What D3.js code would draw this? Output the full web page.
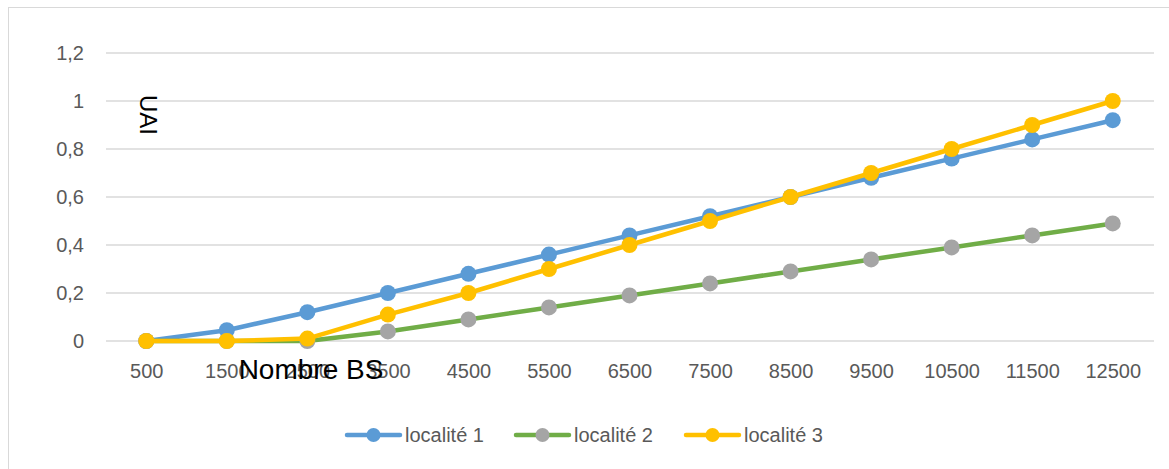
<!DOCTYPE html>
<html>
<head>
<meta charset="utf-8">
<script src="https://cdn.jsdelivr.net/npm/d3@7"></script>
<style>
  html, body { margin: 0; padding: 0; background: #fff; }
  svg { display: block; }
</style>
</head>
<body>
<svg id="chart" width="1169" height="469"></svg>
<script>
const categories = ["500","1500","2500","3500","4500","5500","6500","7500","8500","9500","10500","11500","12500"];
const seriesNames = ["localité 1", "localité 2", "localité 3"];
const loc1 = [0, 0.045, 0.12, 0.2, 0.28, 0.36, 0.44, 0.52, 0.6, 0.68, 0.76, 0.84, 0.92];
const loc2 = [0, 0, 0, 0.04, 0.09, 0.14, 0.19, 0.24, 0.29, 0.34, 0.39, 0.44, 0.49];
const loc3 = [0, 0, 0.01, 0.11, 0.2, 0.3, 0.4, 0.5, 0.6, 0.7, 0.8, 0.9, 1.0];
const yTicks = [0, 0.2, 0.4, 0.6, 0.8, 1, 1.2];
const yTickLabels = ["0", "0,2", "0,4", "0,6", "0,8", "1", "1,2"];
const lineColors = ["#5B9BD5", "#70AD47", "#FFC000"];
const markerColors = ["#5B9BD5", "#A5A5A5", "#FFC000"];
const seriesValues = [loc1, loc2, loc3];

const svg = d3.select("#chart");
const font = "'Liberation Sans', Arial, sans-serif";

// chart border
svg.append("rect").attr("x", 8.5).attr("y", 7.5).attr("width", 1200).attr("height", 500)
  .attr("fill", "none").attr("stroke", "#d9d9d9").attr("stroke-width", 1);

const x = d3.scalePoint().domain(categories).range([106, 1153]).padding(0.5);
const y = d3.scaleLinear().domain([0, 1.2]).range([341, 53]);

// gridlines
svg.append("g").selectAll("line").data(yTicks).join("line")
  .attr("x1", 106).attr("x2", 1154)
  .attr("y1", d => y(d)).attr("y2", d => y(d))
  .attr("stroke", "#d9d9d9").attr("stroke-width", 1.3);

// y axis labels
const yAxis = d3.axisLeft(y).tickValues(yTicks).tickSize(0).tickPadding(0)
  .tickFormat((d, i) => yTickLabels[i]);
const gy = svg.append("g").attr("transform", "translate(84,0)").call(yAxis);
gy.select(".domain").remove();
gy.selectAll("text").attr("fill", "#595959").style("font-family", font).style("font-size", "20px");

// x axis labels
const xAxis = d3.axisBottom(x).tickSize(0).tickPadding(0);
const gx = svg.append("g").attr("transform", "translate(0,364)").call(xAxis);
gx.select(".domain").remove();
gx.selectAll("text").attr("fill", "#595959").attr("dy", "0.71em").style("font-family", font).style("font-size", "20px");

// series
const line = d3.line().x((d, i) => x(categories[i])).y(d => y(d));
seriesValues.forEach((vals, s) => {
  const g = svg.append("g");
  g.append("path").datum(vals).attr("d", line)
    .attr("fill", "none").attr("stroke", lineColors[s]).attr("stroke-width", 4.5)
    .attr("stroke-linejoin", "round").attr("stroke-linecap", "round");
  g.selectAll("circle").data(vals).join("circle")
    .attr("cx", (d, i) => x(categories[i])).attr("cy", d => y(d)).attr("r", 8)
    .attr("fill", markerColors[s]);
});

// axis titles
svg.append("text").attr("x", 311).attr("y", 379).attr("text-anchor", "middle")
  .style("font-family", font).style("font-size", "28px").attr("fill", "#000").text("Nombre BS");
svg.append("text").attr("transform", "translate(140,115) rotate(90)").attr("text-anchor", "middle")
  .style("font-family", font).style("font-size", "24px").attr("fill", "#000").text("UAI");

// legend
const legendX = [347, 516, 686];
const lg = svg.append("g");
seriesNames.forEach((name, s) => {
  const lx = legendX[s];
  lg.append("line").attr("x1", lx).attr("x2", lx + 53).attr("y1", 435).attr("y2", 435)
    .attr("stroke", lineColors[s]).attr("stroke-width", 4.5).attr("stroke-linecap", "round");
  lg.append("circle").attr("cx", lx + 26.5).attr("cy", 435).attr("r", 7).attr("fill", markerColors[s]);
  lg.append("text").attr("x", lx + 58).attr("y", 442)
    .style("font-family", font).style("font-size", "20px").attr("fill", "#595959").text(name);
});
</script>
</body>
</html>
